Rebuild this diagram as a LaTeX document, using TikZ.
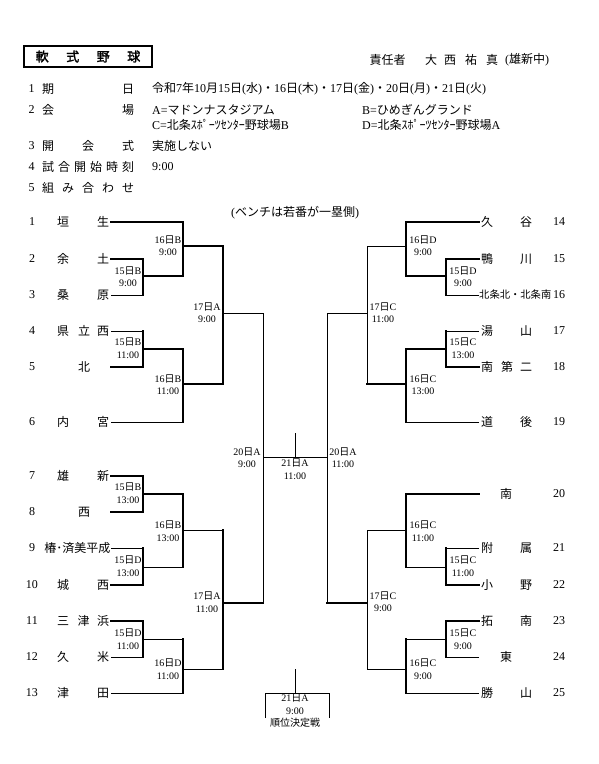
\documentclass[tikz,border=0pt]{standalone}
\usepackage{fontspec}
\setmainfont{Liberation Serif}
\newfontfamily\jpfont{Noto Sans CJK JP}
\newfontfamily\jpbold[FakeBold=2]{Noto Sans CJK JP}
\chardef\jpcls=7
\makeatletter
\def\setjprange#1#2{\count@=#1\relax
  \loop\XeTeXcharclass\count@=\jpcls\relax
  \ifnum\count@<#2\relax\advance\count@ by 1\relax\repeat}
\setjprange{"3000}{"30FF}
\setjprange{"3400}{"4DBF}
\setjprange{"4E00}{"9FFF}
\setjprange{"FF00}{"FFEF}
\makeatother
\XeTeXinterchartoks 0 \jpcls = {\jpfont}
\XeTeXinterchartoks 4095 \jpcls = {\jpfont}
\XeTeXinterchartoks \jpcls 0 = {\rmfamily}
\XeTeXinterchartoks \jpcls 4095 = {\rmfamily}
\XeTeXinterchartokenstate=1

\tikzset{
  win/.style={line width=2.6pt, line cap=rect},
  lose/.style={line width=1pt},
  tchar/.style={inner sep=0pt, font=\fontsize{12}{14}\selectfont},
  num/.style={inner sep=0pt, font=\fontsize{12}{14}\selectfont},
  lbl/.style={inner sep=0pt, align=center, font=\fontsize{10}{12.5}\selectfont},
  hdr/.style={inner sep=0pt, anchor=west, font=\fontsize{12}{14}\selectfont},
  hch/.style={inner sep=0pt, font=\fontsize{12}{14}\selectfont},
}
\newcommand\Lteam[5]{\node[num] (#1n) at (32,#2) {#3};
  \node[tchar] (#1a) at (63,#2) {#4};
  \node[tchar] (#1b) at (103,#2) {#5};}
\newcommand\Rteam[5]{\node[num] (#1n) at (559,#2) {#3};
  \node[tchar] (#1a) at (487,#2) {#4};
  \node[tchar] (#1b) at (526,#2) {#5};}

\begin{document}
\begin{tikzpicture}[x=1pt,y=-1pt]
\path[use as bounding box, fill=white] (0,0) rectangle (599,764);

% ---------- header ----------
\node[draw, line width=1.8pt, minimum width=128pt, minimum height=21pt, inner sep=0pt,
  font={\XeTeXinterchartokenstate=0 \jpbold\fontsize{13}{15}\selectfont}] (title) at (88,56.5)
  {軟\hspace{17.5pt}式\hspace{17.5pt}野\hspace{17.5pt}球};
\node[hch] (resp) at (387.5,60) {責任者};
\node[hch] (r1) at (431,60) {大};
\node[hch] (r2) at (450,60) {西};
\node[hch] (r3) at (471,60) {祐};
\node[hch] (r4) at (492,60) {真};
\node[hdr] (r5) at (505,60) {(雄新中)};

\node[hch] (h1n) at (31.5,89) {1};
\node[hch] (h1a) at (48,89) {期};
\node[hch] (h1b) at (128,89) {日};
\node[hdr] (h1c) at (152,89) {令和7年10月15日(水)・16日(木)・17日(金)・20日(月)・21日(火)};

\node[hch] (h2n) at (31.5,110) {2};
\node[hch] (h2a) at (48,110) {会};
\node[hch] (h2b) at (128,110) {場};
\node[hdr] (h2c) at (152,110) {A=マドンナスタジアム};
\node[hdr] (h2d) at (362,110) {B=ひめぎんグランド};
\node[hdr] (h2e) at (152,125) {C=北条ｽﾎﾟｰﾂｾﾝﾀｰ野球場B};
\node[hdr] (h2f) at (362,125) {D=北条ｽﾎﾟｰﾂｾﾝﾀｰ野球場A};

\node[hch] (h3n) at (31.5,146) {3};
\node[hch] (h3a) at (48,146) {開};
\node[hch] (h3b) at (88,146) {会};
\node[hch] (h3c) at (128,146) {式};
\node[hdr] (h3d) at (152,146) {実施しない};

\node[hch] (h4n) at (31.5,167) {4};
\node[hdr] (h4a) at (42,167) {試\hspace{4pt}合\hspace{4pt}開\hspace{4pt}始\hspace{4pt}時\hspace{4pt}刻};
\node[hdr] (h4b) at (152,167) {9:00};

\node[hch] (h5n) at (31.5,188) {5};
\node[hdr] (h5a) at (42,188) {組\hspace{8pt}み\hspace{8pt}合\hspace{8pt}わ\hspace{8pt}せ};

\node[hch] (bench) at (295,213) {(ベンチは若番が一塁側)};

% ---------- teams left ----------
\Lteam{t1}{222}{1}{垣}{生}
\Lteam{t2}{259}{2}{余}{土}
\Lteam{t3}{295}{3}{桑}{原}
\Lteam{t4}{331}{4}{県}{西}
\node[tchar] (t4m) at (84,331) {立};
\node[num] (t5n) at (32,367) {5};
\node[tchar] (t5a) at (84,367) {北};
\Lteam{t6}{422}{6}{内}{宮}
\Lteam{t7}{476}{7}{雄}{新}
\node[num] (t8n) at (32,512) {8};
\node[tchar] (t8a) at (84,512) {西};
\node[num] (t9n) at (32,548) {9};
\node[tchar, anchor=east] (t9a) at (110.5,548) {椿･済美平成};
\Lteam{t10}{585}{10}{城}{西}
\Lteam{t11}{621}{11}{三}{浜}
\node[tchar] (t11m) at (83.5,621) {津};
\Lteam{t12}{657}{12}{久}{米}
\Lteam{t13}{693}{13}{津}{田}

% ---------- teams right ----------
\Rteam{u14}{222}{14}{久}{谷}
\Rteam{u15}{259}{15}{鴨}{川}
\node[num] (u16n) at (559,295) {16};
\node[inner sep=0pt, anchor=west, font=\fontsize{10.3}{12}\selectfont] (u16a) at (479,295) {北条北・北条南};
\Rteam{u17}{331}{17}{湯}{山}
\Rteam{u18}{367}{18}{南}{二}
\node[tchar] (u18m) at (507,367) {第};
\Rteam{u19}{422}{19}{道}{後}
\node[num] (u20n) at (559,494) {20};
\node[tchar] (u20a) at (506,494) {南};
\Rteam{u21}{548}{21}{附}{属}
\Rteam{u22}{585}{22}{小}{野}
\Rteam{u23}{621}{23}{拓}{南}
\node[num] (u24n) at (559,657) {24};
\node[tchar] (u24a) at (506,657) {東};
\Rteam{u25}{693}{25}{勝}{山}

% ---------- coordinates left ----------
\foreach \n/\y in {1/222,2/259,3/295,4/331,5/367,6/422,7/476,8/512,9/548,10/585,11/621,12/657,13/693}
  \coordinate (T\n) at (111,\y);
\coordinate (A1t) at (143,259); \coordinate (A1b) at (143,295); \coordinate (A1o) at (143,276);
\coordinate (B1t) at (183,222); \coordinate (B1b) at (183,276); \coordinate (B1o) at (183,246);
\coordinate (A2t) at (143,331); \coordinate (A2b) at (143,367); \coordinate (A2o) at (143,349);
\coordinate (B2t) at (183,349); \coordinate (B2b) at (183,422); \coordinate (B2o) at (183,384);
\coordinate (C1t) at (223,246); \coordinate (C1b) at (223,384); \coordinate (C1o) at (223,313);
\coordinate (A3t) at (143,476); \coordinate (A3b) at (143,512); \coordinate (A3o) at (143,494);
\coordinate (B3t) at (183,494); \coordinate (B3b) at (183,567); \coordinate (B3o) at (183,530);
\coordinate (A4t) at (143,548); \coordinate (A4b) at (143,585); \coordinate (A4o) at (143,567);
\coordinate (C2t) at (223,530); \coordinate (C2b) at (223,669); \coordinate (C2o) at (223,603);
\coordinate (A5t) at (143,621); \coordinate (A5b) at (143,657); \coordinate (A5o) at (143,639);
\coordinate (B4t) at (183,639); \coordinate (B4b) at (183,693); \coordinate (B4o) at (183,669);
\coordinate (D1t) at (263,313); \coordinate (D1b) at (263,603); \coordinate (D1o) at (263,457);
% centre
\coordinate (E1t) at (327,313); \coordinate (E1b) at (327,603); \coordinate (E1o) at (327,457);
\coordinate (F1) at (295,433); \coordinate (F1o) at (295,457);
\coordinate (G1) at (295,669); \coordinate (G1o) at (295,693);
\coordinate (G2) at (265,693); \coordinate (G3) at (329,693);
\coordinate (G2e) at (265,718); \coordinate (G3e) at (329,718);
% right
\foreach \n/\y in {14/222,15/259,16/295,17/331,18/367,19/422,20/494,21/548,22/585,23/621,24/657,25/693}
  \coordinate (U\n) at (479,\y);
\coordinate (P1t) at (446,259); \coordinate (P1b) at (446,295); \coordinate (P1o) at (446,276);
\coordinate (Q1t) at (406,222); \coordinate (Q1b) at (406,276); \coordinate (Q1o) at (406,246);
\coordinate (P2t) at (446,331); \coordinate (P2b) at (446,367); \coordinate (P2o) at (446,349);
\coordinate (Q2t) at (406,349); \coordinate (Q2b) at (406,422); \coordinate (Q2o) at (406,384);
\coordinate (R1t) at (367,246); \coordinate (R1b) at (367,384); \coordinate (R1o) at (367,313);
\coordinate (Q3t) at (406,494); \coordinate (Q3b) at (406,567); \coordinate (Q3o) at (406,530);
\coordinate (P3t) at (446,548); \coordinate (P3b) at (446,585); \coordinate (P3o) at (446,567);
\coordinate (R2t) at (367,530); \coordinate (R2b) at (367,669); \coordinate (R2o) at (367,603);
\coordinate (P4t) at (446,621); \coordinate (P4b) at (446,657); \coordinate (P4o) at (446,639);
\coordinate (Q4t) at (406,639); \coordinate (Q4b) at (406,693); \coordinate (Q4o) at (406,669);

% ---------- lines left ----------
\draw[lose] (T3) -- (A1b);
\draw[lose] (T4) -- (A2t);
\draw[lose] (T6) -- (B2b);
\draw[lose] (C1o) -- (D1t);
\draw[lose] (B3o) -- (C2t);
\draw[lose] (T9) -- (A4t);
\draw[lose] (A4o) -- (B3b);
\draw[lose] (T12) -- (A5b);
\draw[lose] (A5o) -- (B4t);
\draw[lose] (T13) -- (B4b);
\draw[lose] (B4o) -- (C2b);
\draw[lose] (D1t) -- (D1b);
\draw[win] (T1) -- (B1t) -- (B1b);
\draw[win] (T2) -- (A1t) -- (A1b);
\draw[win] (A1o) -- (B1b);
\draw[win] (B1o) -- (C1t) -- (C1b);
\draw[win] (T5) -- (A2b) -- (A2t);
\draw[win] (A2o) -- (B2t) -- (B2b);
\draw[win] (B2o) -- (C1b);
\draw[win] (T7) -- (A3t) -- (A3b) -- (T8);
\draw[win] (A3o) -- (B3t) -- (B3b);
\draw[win] (T10) -- (A4b) -- (A4t);
\draw[win] (C2t) -- (C2b);
\draw[win] (C2o) -- (D1b);
\draw[win] (T11) -- (A5t) -- (A5b);
\draw[win] (B4t) -- (B4b);

% ---------- centre ----------
\draw[lose] (D1o) -- (E1o);
\draw[lose] (F1) -- (F1o);
\draw[lose] (E1t) -- (E1b);
\draw[lose] (G1) -- (G1o);
\draw[lose] (G2e) -- (G2) -- (G3) -- (G3e);

% ---------- lines right ----------
\draw[lose] (U16) -- (P1b);
\draw[lose] (Q1o) -- (R1t);
\draw[lose] (U17) -- (P2t);
\draw[lose] (U19) -- (Q2b);
\draw[lose] (R1t) -- (R1b);
\draw[lose] (R1o) -- (E1t);
\draw[lose] (U21) -- (P3t);
\draw[lose] (P3o) -- (Q3b);
\draw[lose] (Q3o) -- (R2t);
\draw[lose] (R2t) -- (R2b);
\draw[lose] (U24) -- (P4b);
\draw[lose] (P4o) -- (Q4t);
\draw[lose] (U25) -- (Q4b);
\draw[lose] (Q4o) -- (R2b);
\draw[win] (U14) -- (Q1t) -- (Q1b);
\draw[win] (U15) -- (P1t) -- (P1b);
\draw[win] (P1o) -- (Q1b);
\draw[win] (U18) -- (P2b) -- (P2t);
\draw[win] (P2o) -- (Q2t) -- (Q2b);
\draw[win] (Q2o) -- (R1b);
\draw[win] (U20) -- (Q3t) -- (Q3b);
\draw[win] (U22) -- (P3b) -- (P3t);
\draw[win] (R2o) -- (E1b);
\draw[win] (U23) -- (P4t) -- (P4b);
\draw[win] (Q4t) -- (Q4b);

% ---------- labels ----------
\node[lbl] (m1) at (128,276.5) {15日B\\9:00};
\node[lbl] (m2) at (168,245.5) {16日B\\9:00};
\node[lbl] (m3) at (207,312.5) {17日A\\9:00};
\node[lbl] (m4) at (128,348) {15日B\\11:00};
\node[lbl] (m5) at (168,384.5) {16日B\\11:00};
\node[lbl] (m6) at (128,493) {15日B\\13:00};
\node[lbl] (m7) at (168,531) {16日B\\13:00};
\node[lbl] (m8) at (128,566) {15日D\\13:00};
\node[lbl] (m9) at (207,602) {17日A\\11:00};
\node[lbl] (m10) at (128,639) {15日D\\11:00};
\node[lbl] (m11) at (168,669) {16日D\\11:00};
\node[lbl] (m12) at (247,457.5) {20日A\\9:00};
\node[lbl] (m13) at (295,469) {21日A\\11:00};
\node[lbl] (m14) at (343,457.5) {20日A\\11:00};
\node[lbl] (m15) at (295,711) {21日A\\9:00\\順位決定戦};
\node[lbl] (m16) at (423,245.5) {16日D\\9:00};
\node[lbl] (m17) at (463,276.5) {15日D\\9:00};
\node[lbl] (m18) at (383,312.5) {17日C\\11:00};
\node[lbl] (m19) at (463,348) {15日C\\13:00};
\node[lbl] (m20) at (423,384.5) {16日C\\13:00};
\node[lbl] (m21) at (423,531) {16日C\\11:00};
\node[lbl] (m22) at (463,566) {15日C\\11:00};
\node[lbl] (m23) at (383,601.5) {17日C\\9:00};
\node[lbl] (m24) at (463,639) {15日C\\9:00};
\node[lbl] (m25) at (423,669) {16日C\\9:00};
\end{tikzpicture}
\end{document}
